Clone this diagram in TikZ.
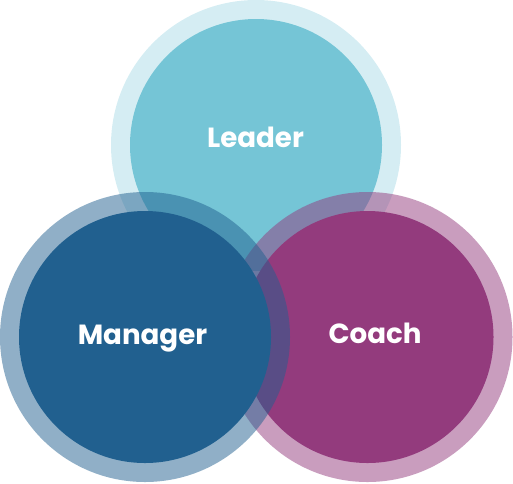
\documentclass[tikz,border=0pt]{standalone}
\usepackage{fontspec}
\setmainfont{Poppins}
\definecolor{leaderc}{HTML}{75C5D6}
\definecolor{managerc}{HTML}{21608F}
\definecolor{coachc}{HTML}{933B7D}
\tikzset{
  outerdisk/.style={circle, draw=none, inner sep=0pt, minimum size=290pt},
  innerdisk/.style={circle, draw=none, inner sep=0pt, minimum size=252pt},
  lbl/.style={text=white, font=\fontsize{27.7}{32}\selectfont\bfseries, anchor=base, inner sep=0pt}
}
\begin{document}
\begin{tikzpicture}[x=1pt,y=-1pt]
\useasboundingbox (0,0) rectangle (513,483);
% Leader
\node[outerdisk, fill=leaderc, fill opacity=0.3] (leaderRing) at (256,145) {};
\node[innerdisk, fill=leaderc] (leaderIn) at (256,145) {};
% Coach
\node[outerdisk, fill=coachc, fill opacity=0.5] (coachRing) at (367.5,337) {};
\node[innerdisk, fill=coachc] (coachIn) at (367.5,337) {};
% Manager
\node[outerdisk, fill=managerc, fill opacity=0.5] (managerRing) at (145,337) {};
\node[innerdisk, fill=managerc] (managerIn) at (145,337) {};
% Labels
\node[lbl] (leaderTxt) at (255.5,147) {Leader};
\node[lbl] (managerTxt) at (142.5,344) {Manager};
\node[lbl] (coachTxt) at (375,343) {Coach};
\end{tikzpicture}
\end{document}
